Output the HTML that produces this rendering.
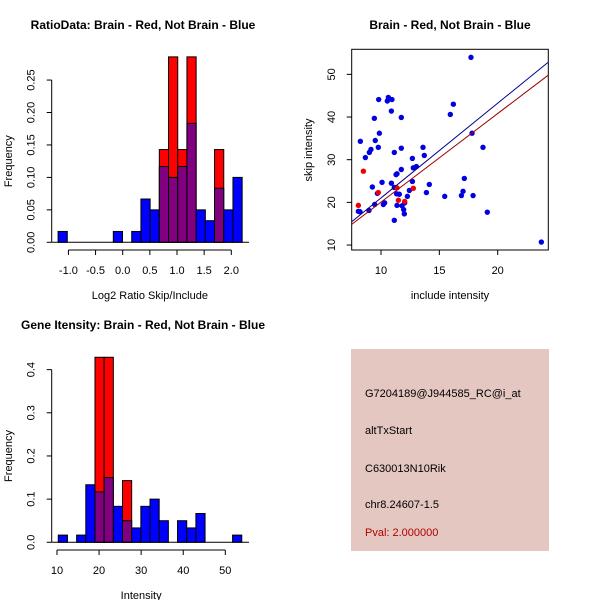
<!DOCTYPE html>
<html><head><meta charset="utf-8"><style>
body{margin:0;background:#fff}
svg{display:block;font-family:"Liberation Sans",sans-serif}
</style></head><body>
<svg id="s" width="600" height="600" xmlns="http://www.w3.org/2000/svg">
<rect width="600" height="600" fill="#fff"/>
<text x="143" y="29" font-size="12" font-weight="bold" text-anchor="middle">RatioData: Brain - Red, Not Brain - Blue</text>
<text x="450" y="29" font-size="12" font-weight="bold" text-anchor="middle">Brain - Red, Not Brain - Blue</text>
<text x="143" y="329" font-size="12" font-weight="bold" text-anchor="middle">Gene Itensity: Brain - Red, Not Brain - Blue</text>
<g id="info">
<rect x="351" y="349" width="198" height="202" fill="#e5c7c1"/>
<text x="365" y="397" font-size="11">G7204189@J944585_RC@i_at</text>
<text x="365" y="434" font-size="11">altTxStart</text>
<text x="365" y="472" font-size="11">C630013N10Rik</text>
<text x="365" y="508" font-size="11">chr8.24607-1.5</text>
<text x="365" y="536" font-size="11" fill="#b00000">Pval: 2.000000</text>
</g>
</svg>
<script>
// ---- Ratio histogram data ----
const ratioBinStart=-1.19, ratioBinWidth=0.1695;
const ratioBlue=[0.0167,0,0,0,0,0,0.0167,0,0.0167,0.0667,0.05,0.1167,0.1,0.1167,0.1833,0.05,0.0333,0.0833,0.05,0.1];
const ratioRed=[0,0,0,0,0,0,0,0,0,0,0,0.1429,0.2857,0.1429,0.2857,0,0,0.1429,0,0];
const ratioXTicks=[-1.0,-0.5,0.0,0.5,1.0,1.5,2.0];
const ratioYTicks=[0,0.05,0.10,0.15,0.20,0.25];
// ---- Intensity histogram data ----
const intBinStart=10.31, intBinWidth=2.18;
const intBlue=[0.0167,0,0.0167,0.1333,0.1167,0.15,0.0833,0.05,0.0333,0.0833,0.1,0.05,0,0.05,0.0333,0.0667,0,0,0,0.0167];
const intRed=[0,0,0,0,0.4286,0.4286,0,0.1429,0,0,0,0,0,0,0,0,0,0,0,0];
const intXTicks=[10,20,30,40,50];
const intYTicks=[0,0.1,0.2,0.3,0.4];
// ---- Scatter data ----
const blueX=[17.71,9.8,10.63,10.54,10.94,10.89,11.74,9.43,16.2,15.94,8.23,9.86,9.51,9.77,9.14,9.0,8.66,11.14,11.74,13.6,13.71,18.74,17.8,12.69,12.77,13.03,11.74,11.37,11.29,10.89,10.09,9.26,9.69,12.69,14.14,17.14,17.03,16.89,17.89,15.46,13.89,12.43,12.26,11.34,11.57,11.37,11.8,11.94,12.0,12.03,10.31,10.2,9.46,8.97,8.06,8.2,11.14,19.11,23.74,11.14];
const blueY=[53.98,44.1,44.6,43.75,44.1,41.4,39.9,39.7,43,40.6,34.3,36.2,34.5,32.9,32.4,31.7,30.5,31.7,32.7,32.9,31,32.9,36.2,30.3,28.1,28.4,27.7,26.7,26.5,24.5,24.7,23.6,22.1,24.9,24.2,25.6,22.6,21.6,21.6,21.4,22.3,22.8,21.4,22,21.9,19.3,19.2,18.3,17.3,19.9,19.9,19.5,19.5,18.1,17.9,17.8,15.8,17.7,10.7,23.5];
const redX=[8.06,8.49,9.77,11.37,11.49,12.77,12.03];
const redY=[19.3,27.3,22.3,23.4,20.5,23.3,20.2];
const blueFit=[2.22,-1.16];
const redFit=[2.077,-0.72];
const scXTicks=[10,15,20];
const scYTicks=[10,20,30,40,50];

const NS="http://www.w3.org/2000/svg", S=document.getElementById('s');
function mk(t,a,p){const e=document.createElementNS(NS,t);for(const k in a)e.setAttribute(k,a[k]);(p||S).appendChild(e);return e;}

function axes(g,xs,ys,xT,yT,xLab,yLab,yAxisX,xAxisY,xl0,xl1,yl0,yl1,fmtX,fmtY,xLabY,yLabX){
  const ax=mk('g',{},g);
  
  
  mk('line',{x1:xs(xl0),x2:xs(xl1),y1:xAxisY,y2:xAxisY,stroke:'#000'},ax);
  xT.forEach(v=>{mk('line',{x1:xs(v),x2:xs(v),y1:xAxisY,y2:xAxisY+5,stroke:'#000'},ax);
    const t=mk('text',{x:xs(v),y:xAxisY+24,'font-size':11,'text-anchor':'middle'},ax);t.textContent=fmtX(v);
    
    });
  const ay=mk('g',{},g);
  
  
  mk('line',{x1:yAxisX,x2:yAxisX,y1:ys(yl0),y2:ys(yl1),stroke:'#000'},ay);
  yT.forEach(v=>{mk('line',{x1:yAxisX-5,x2:yAxisX,y1:ys(v),y2:ys(v),stroke:'#000'},ay);
    const t=mk('text',{x:0,y:0,'font-size':11,'text-anchor':'middle',transform:`translate(${yAxisX-17},${ys(v)}) rotate(-90)`},ay);t.textContent=fmtY(v);
    
    });
  const xl=mk('text',{x:(xs(xl0)+xs(xl1))/2,y:xLabY,'font-size':11,'text-anchor':'middle'},g);xl.textContent=xLab;
  
  
  const yl=mk('text',{x:0,y:0,'font-size':11,'text-anchor':'middle',transform:`translate(${yLabX},${(ys(yl0)+ys(yl1))/2}) rotate(-90)`},g);yl.textContent=yLab;
  
  
}

function hist(name,blue,red,start,w,xs,ys){
  const g=mk('g',{});
  
  
  for(let i=0;i<blue.length;i++){
    const x0=xs(start+i*w),x1=xs(start+(i+1)*w),b=blue[i],r=red[i];
    const hi=Math.max(b,r),lo=Math.min(b,r);
    if(hi<=0)continue;
    const col=b>=r?'#0000ff':'#ff0000';
    const e=mk('rect',{x:x0,y:ys(hi),width:x1-x0,height:ys(0)-ys(hi),fill:col,stroke:'#000','stroke-width':1},g);
    
    
    if(lo>0){const p=mk('rect',{x:x0,y:ys(lo),width:x1-x0,height:ys(0)-ys(lo),fill:'#800080',stroke:'#000','stroke-width':1},g);
      
      }
  }
  return g;
}

// Ratio histogram
{const xs=v=>122.7+54.3*v, ys=v=>242.3-649*v;
 const g=hist('ratio-histogram',ratioBlue,ratioRed,ratioBinStart,ratioBinWidth,xs,ys);
 mk('line',{x1:52,x2:249,y1:242.3,y2:242.3,stroke:'#000'},g);
 axes(g,xs,ys,ratioXTicks,ratioYTicks,'Log2 Ratio Skip/Include','Frequency',51.7,250,-1.0,2.0,0,0.25,v=>v.toFixed(1),v=>v.toFixed(2),299,12);}

// Intensity histogram
{const xs=v=>14.9+4.208*v, ys=v=>542.3-431.7*v;
 const g=hist('intensity-histogram',intBlue,intRed,intBinStart,intBinWidth,xs,ys);
 mk('line',{x1:52,x2:249,y1:542.3,y2:542.3,stroke:'#000'},g);
 axes(g,xs,ys,intXTicks,intYTicks,'Intensity','Frequency',51.7,550,10,50,0,0.4,v=>String(v),v=>v.toFixed(1),599,12);}

// Scatter
{const xs=v=>264.3+11.67*v, ys=v=>287.7-4.267*v;
 const g=mk('g',{});
 
 
 mk('rect',{x:351.7,y:49.3,width:196.6,height:200.7,fill:'none',stroke:'#000'},g);
 const cp=mk('clipPath',{id:'cp'},g);mk('rect',{x:351.7,y:49.3,width:196.6,height:200.7},cp);
 blueX.forEach((x,i)=>{const c=mk('circle',{cx:xs(x),cy:ys(blueY[i]),r:2.7,fill:'#0000e0'},g);
   
   });
 redX.forEach((x,i)=>{const c=mk('circle',{cx:xs(x),cy:ys(redY[i]),r:2.7,fill:'#ee0000'},g);
   
   });
 const xa=7.49,xb=24.34;
 const bl=mk('line',{x1:xs(xa),y1:ys(blueFit[0]*xa+blueFit[1]),x2:xs(xb),y2:ys(blueFit[0]*xb+blueFit[1]),stroke:'#000090','clip-path':'url(#cp)'},g);
 
 
 const rl=mk('line',{x1:xs(xa),y1:ys(redFit[0]*xa+redFit[1]),x2:xs(xb),y2:ys(redFit[0]*xb+redFit[1]),stroke:'#a00000','clip-path':'url(#cp)'},g);
 
 
 scXTicks.forEach(v=>{mk('line',{x1:xs(v),x2:xs(v),y1:250,y2:255,stroke:'#000'},g);
   const t=mk('text',{x:xs(v),y:274,'font-size':11,'text-anchor':'middle'},g);t.textContent=v;
   
   });
 scYTicks.forEach(v=>{mk('line',{x1:346.7,x2:351.7,y1:ys(v),y2:ys(v),stroke:'#000'},g);
   const t=mk('text',{x:0,y:0,'font-size':11,'text-anchor':'middle',transform:`translate(${335},${ys(v)}) rotate(-90)`},g);t.textContent=v;
   
   });
 const xl=mk('text',{x:450,y:299,'font-size':11,'text-anchor':'middle'},g);xl.textContent='include intensity';
 
 
 const yl=mk('text',{x:0,y:0,'font-size':11,'text-anchor':'middle',transform:'translate(312,150) rotate(-90)'},g);yl.textContent='skip intensity';
 
 }
</script>
</body></html>
